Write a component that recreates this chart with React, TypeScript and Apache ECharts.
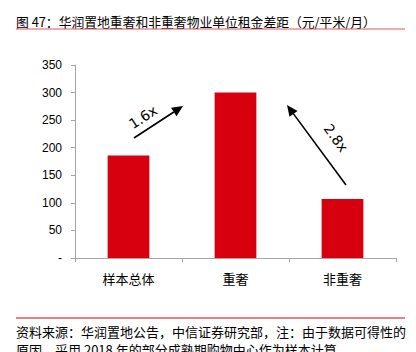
import React, { useEffect, useRef } from "react";
import * as echarts from "echarts";

const categories = ["样本总体", "重奢", "非重奢"];
const rentValues = [186, 300, 107];
const yTicks = [0, 50, 100, 150, 200, 250, 300, 350];
const titleText = "图 47：华润置地重奢和非重奢物业单位租金差距（元/平米/月）";
const footLine1 = "资料来源：华润置地公告，中信证券研究部，注：由于数据可得性的";
const footLine2 = "原因，采用 2018 年的部分成熟期购物中心作为样本计算";
const arrowLabels = ["1.6x", "2.8x"];

const CJK = '"Noto Sans CJK SC", "Noto Sans", sans-serif';
const NUM = '"Liberation Sans", Arial, sans-serif';

function arrow(x1: number, y1: number, x2: number, y2: number) {
  const ang = Math.atan2(y2 - y1, x2 - x1);
  const len = 11;
  const half = 5;
  const bx = x2 - len * Math.cos(ang);
  const by = y2 - len * Math.sin(ang);
  const px = -Math.sin(ang) * half;
  const py = Math.cos(ang) * half;
  return [
    {
      type: "line",
      shape: { x1, y1, x2: bx, y2: by },
      style: { stroke: "#000", lineWidth: 1.6 },
    },
    {
      type: "polygon",
      shape: {
        points: [
          [x2, y2],
          [bx + px, by + py],
          [bx - px, by - py],
        ],
      },
      style: { fill: "#000" },
    },
  ];
}

export default function App() {
  const ref = useRef<HTMLDivElement>(null);
  useEffect(() => {
    if (!ref.current) return;
    const chart = echarts.init(ref.current, null, { renderer: "svg" });
    chart.setOption({
      animation: false,
      backgroundColor: "#fff",
      grid: { left: 75, right: 20, top: 65, bottom: 94 },
      xAxis: {
        type: "category",
        data: categories,
        axisLine: { lineStyle: { color: "#a6a6a6", width: 1 } },
        axisTick: { show: true, length: 4, alignWithLabel: false, lineStyle: { color: "#a6a6a6" } },
        axisLabel: { color: "#000", fontFamily: CJK, fontSize: 13, margin: 14 },
      },
      yAxis: {
        type: "value",
        min: yTicks[0],
        max: yTicks[yTicks.length - 1],
        interval: 50,
        splitLine: { show: false },
        axisLine: { show: true, lineStyle: { color: "#a6a6a6", width: 1 } },
        axisTick: { show: true, length: 4, lineStyle: { color: "#a6a6a6" } },
        axisLabel: {
          color: "#000",
          fontFamily: NUM,
          fontSize: 12,
          margin: 13,
          formatter: (v: number) => (v === 0 ? "-" : String(v)),
        },
      },
      series: [
        {
          type: "bar",
          data: rentValues,
          barWidth: "39%",
          itemStyle: { color: "#d7000f" },
        },
      ],
      graphic: [
        {
          type: "text",
          x: 16,
          y: 21,
          style: {
            text: titleText,
            fontFamily: CJK,
            fontSize: 12.8,
            fill: "#000",
            verticalAlign: "middle",
          },
        },
        {
          type: "line",
          shape: { x1: 16, y1: 29, x2: 405, y2: 29 },
          style: { stroke: "#e0565b", lineWidth: 1 },
        },
        ...arrow(134, 138, 183, 106),
        {
          type: "text",
          x: 143,
          y: 117,
          rotation: (33 * Math.PI) / 180,
          style: {
            text: arrowLabels[0],
            fontFamily: '"DejaVu Sans", sans-serif',
            fontSize: 14,
            fill: "#000",
            align: "center",
            verticalAlign: "middle",
          },
        },
        ...arrow(346, 185, 287, 105),
        {
          type: "text",
          x: 336,
          y: 138,
          rotation: (-54 * Math.PI) / 180,
          style: {
            text: arrowLabels[1],
            fontFamily: '"DejaVu Sans", sans-serif',
            fontSize: 14,
            fill: "#000",
            align: "center",
            verticalAlign: "middle",
          },
        },
        {
          type: "line",
          shape: { x1: 16, y1: 318, x2: 405, y2: 318 },
          style: { stroke: "#d7000f", lineWidth: 1 },
        },
        {
          type: "text",
          x: 16,
          y: 331,
          style: {
            text: footLine1,
            fontFamily: CJK,
            fontSize: 13,
            fill: "#000",
            verticalAlign: "middle",
          },
        },
        {
          type: "text",
          x: 16,
          y: 349,
          style: {
            text: footLine2,
            fontFamily: CJK,
            fontSize: 13,
            fill: "#000",
            verticalAlign: "middle",
          },
        },
      ],
    });
    return () => chart.dispose();
  }, []);
  return <div ref={ref} style={{ width: 416, height: 352, position: "absolute", left: 0, top: 0 }} />;
}
